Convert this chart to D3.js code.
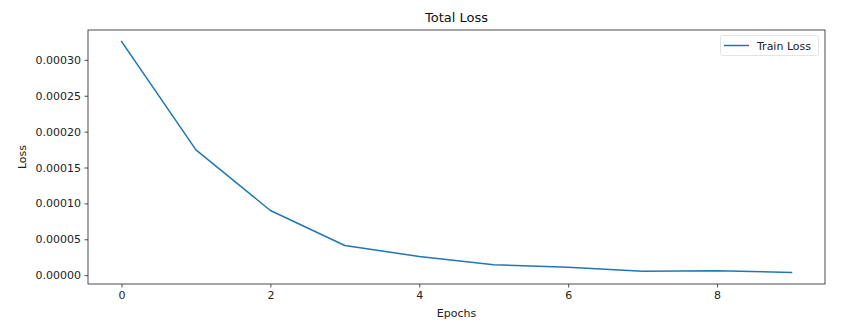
<!DOCTYPE html>
<html><head><meta charset="utf-8">
<script src="https://cdn.jsdelivr.net/npm/d3@7"></script>
<style>body{margin:0;background:#fff}svg{display:block;font-family:"DejaVu Sans",sans-serif}</style>
</head><body>
<svg id="c" width="862" height="328"></svg>
<script>
const epochs = [0,1,2,3,4,5,6,7,8,9];
const trainLoss = [0.0003255,0.0001746,0.0000901,0.0000414,0.0000260,0.0000145,0.0000111,0.0000056,0.0000061,0.0000038];
const xTicks = [0,2,4,6,8];
const yTicks = [0,0.00005,0.0001,0.00015,0.0002,0.00025,0.0003];

const svg = d3.select("#c");
const L=88,R=825,T=30,B=284;
const xmin=d3.min(epochs),xmax=d3.max(epochs),xm=(xmax-xmin)*0.05;
const ymin=d3.min(trainLoss),ymax=d3.max(trainLoss),ym=(ymax-ymin)*0.05;
const x=d3.scaleLinear().domain([xmin-xm,xmax+xm]).range([L,R]);
const y=d3.scaleLinear().domain([ymin-ym,ymax+ym]).range([B,T]);

svg.append("path").datum(epochs.map((e,i)=>[e,trainLoss[i]]))
  .attr("d",d3.line().x(d=>x(d[0])).y(d=>y(d[1])))
  .attr("fill","none").attr("stroke","#1f77b4").attr("stroke-width",1.5)
  .attr("stroke-linejoin","round").attr("stroke-linecap","square");

const xa=svg.append("g").attr("transform",`translate(0,${B})`)
  .call(d3.axisBottom(x).tickValues(xTicks).tickFormat(d3.format("d")).tickSizeOuter(0).tickSize(3.5).tickPadding(3.5));
const ya=svg.append("g").attr("transform",`translate(${L},0)`)
  .call(d3.axisLeft(y).tickValues(yTicks).tickFormat(d3.format(".5f")).tickSizeOuter(0).tickSize(3.5).tickPadding(3.5));
[xa,ya].forEach(g=>{g.select(".domain").remove();g.selectAll("text").attr("font-size",11).attr("fill","#222").attr("font-family","DejaVu Sans");g.selectAll("line").attr("stroke","#222").attr("stroke-width",0.8);});

svg.append("rect").attr("x",L).attr("y",T).attr("width",R-L).attr("height",B-T)
  .attr("fill","none").attr("stroke","#222").attr("stroke-width",0.8);

svg.append("text").attr("x",(L+R)/2).attr("y",22).attr("text-anchor","middle").attr("font-size",13).attr("fill","#111").text("Total Loss");
svg.append("text").attr("x",(L+R)/2).attr("y",317).attr("text-anchor","middle").attr("font-size",11).attr("fill","#222").text("Epochs");
svg.append("text").attr("transform",`translate(26,${(T+B)/2}) rotate(-90)`).attr("text-anchor","middle").attr("font-size",11).attr("fill","#222").text("Loss");

const lg=svg.append("g");
lg.append("rect").attr("x",720.5).attr("y",35.5).attr("width",98).attr("height",20).attr("rx",2)
  .attr("fill","#fff").attr("fill-opacity",0.8).attr("stroke","#ddd").attr("stroke-width",0.8);
lg.append("line").attr("x1",724).attr("x2",749).attr("y1",45.5).attr("y2",45.5).attr("stroke","#1f77b4").attr("stroke-width",1.5);
lg.append("text").attr("x",757).attr("y",49.5).attr("font-size",11).attr("fill","#222").text("Train Loss");
</script>
</body></html>
